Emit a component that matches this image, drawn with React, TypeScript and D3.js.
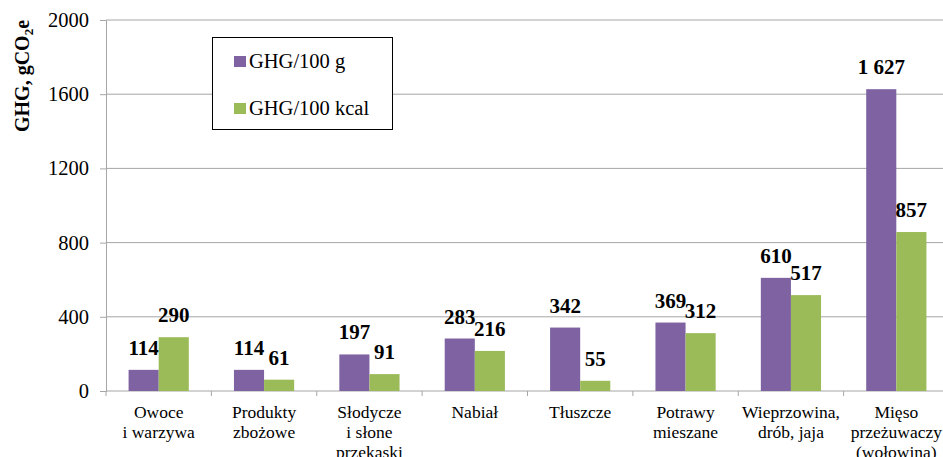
import React from "react";
import * as d3 from "d3";

// chart data
const categories = [
  ["Owoce", "i warzywa"],
  ["Produkty", "zbożowe"],
  ["Słodycze", "i słone", "przekąski"],
  ["Nabiał"],
  ["Tłuszcze"],
  ["Potrawy", "mieszane"],
  ["Wieprzowina,", "drób, jaja"],
  ["Mięso", "przeżuwaczy", "(wołowina)"],
];
const seriesNames = ["GHG/100 g", "GHG/100 kcal"];
const ghgPer100g = [114, 114, 197, 283, 342, 369, 610, 1627];
const ghgPer100kcal = [290, 61, 91, 216, 55, 312, 517, 857];
const yTicks = [0, 400, 800, 1200, 1600, 2000];
const colors = ["#7e62a1", "#9bbb59"];

export default function App() {
  const svgRef = React.useRef(null);
  const width = 943;
  const height = 457;

  React.useEffect(() => {
    const svg = d3.select(svgRef.current);
    svg.selectAll("*").remove();

    const x0 = d3.scaleBand().domain(d3.range(categories.length)).range([106, 949]);
    const x1 = d3.scaleBand().domain([0, 1]).range([0, x0.bandwidth()]).paddingOuter(0.75);
    const y = d3.scaleLinear().domain([0, 2000]).range([391, 20]);

    // gridlines
    svg.append("g")
      .selectAll("line")
      .data(yTicks.slice(1))
      .enter()
      .append("line")
      .attr("x1", 106)
      .attr("x2", width)
      .attr("y1", d => y(d))
      .attr("y2", d => y(d))
      .attr("stroke", "#a6a6a6")
      .attr("stroke-width", 1);

    // y axis
    const yAxis = d3.axisLeft(y).tickValues(yTicks).tickSize(6).tickPadding(11).tickFormat(d3.format("d"));
    const yg = svg.append("g").attr("transform", "translate(106,0)").call(yAxis);
    yg.attr("font-family", null).attr("font-size", null);
    yg.select(".domain").attr("stroke", "#a6a6a6");
    yg.selectAll("line").attr("stroke", "#a6a6a6");
    yg.selectAll("text")
      .style("font-size", "20.5px")
      .attr("fill", "#000");

    // x axis line + ticks
    svg.append("line")
      .attr("x1", 106).attr("x2", width)
      .attr("y1", y(0)).attr("y2", y(0))
      .attr("stroke", "#a6a6a6");
    svg.append("g")
      .selectAll("line")
      .data(d3.range(categories.length + 1))
      .enter()
      .append("line")
      .attr("x1", i => (i < categories.length ? x0(i) : x0(i - 1) + x0.bandwidth()))
      .attr("x2", i => (i < categories.length ? x0(i) : x0(i - 1) + x0.bandwidth()))
      .attr("y1", y(0))
      .attr("y2", y(0) + 5)
      .attr("stroke", "#a6a6a6");

    // bars
    const rows = categories.map((c, i) => [ghgPer100g[i], ghgPer100kcal[i]]);
    const groups = svg.append("g")
      .selectAll("g")
      .data(rows)
      .enter()
      .append("g")
      .attr("transform", (d, i) => `translate(${x0(i)},0)`);

    groups.selectAll("rect")
      .data(d => d)
      .enter()
      .append("rect")
      .attr("x", (d, j) => x1(j))
      .attr("y", d => y(d))
      .attr("width", x1.bandwidth())
      .attr("height", d => y(0) - y(d))
      .attr("fill", (d, j) => colors[j]);

    const fmt = d => (d >= 1000 ? d3.format(",")(d).replace(",", " ") : String(d));
    groups.selectAll("text")
      .data(d => d)
      .enter()
      .append("text")
      .attr("x", (d, j) => x1(j) + x1.bandwidth() / 2)
      .attr("y", d => y(d) - 15)
      .attr("text-anchor", "middle")
      .style("font-weight", "bold")
      .style("font-size", "21px")
      .text(fmt);

    // category labels
    const lab = svg.append("g")
      .selectAll("text")
      .data(categories)
      .enter()
      .append("text")
      .attr("x", (d, i) => x0(i) + x0.bandwidth() / 2)
      .attr("y", 418)
      .attr("text-anchor", "middle")
      .style("font-size", "17.5px")
      .attr("fill", "#000");
    lab.selectAll("tspan")
      .data(d => d)
      .enter()
      .append("tspan")
      .attr("x", function () { return d3.select(this.parentNode).attr("x"); })
      .attr("dy", (d, k) => (k === 0 ? 0 : 20))
      .text(d => d);

    // y axis title
    const title = svg.append("text")
      .attr("transform", "translate(29,76) rotate(-90)")
      .attr("text-anchor", "middle")
      .style("font-weight", "bold")
      .style("font-size", "20px");
    title.append("tspan").text("GHG, gCO");
    title.append("tspan").style("font-size", "13px").attr("dy", 4).text("2");
    title.append("tspan").attr("dy", -4).text("e");

    // legend
    const legend = svg.append("g");
    legend.append("rect")
      .attr("x", 212.5).attr("y", 37.5)
      .attr("width", 180).attr("height", 92)
      .attr("fill", "#fff")
      .attr("stroke", "#000");
    const items = legend.selectAll("g.item")
      .data(seriesNames)
      .enter()
      .append("g")
      .attr("transform", (d, i) => `translate(234,${56 + i * 47})`);
    items.append("rect")
      .attr("width", 12).attr("height", 11)
      .attr("fill", (d, i) => colors[i]);
    items.append("text")
      .attr("x", 15)
      .attr("y", 11.5)
      .style("font-size", "20.5px")
      .text(d => d);
  }, []);

  return (
    <svg
      ref={svgRef}
      width={width}
      height={height}
      style={{
        position: "absolute",
        left: 0,
        top: 0,
        background: "#fff",
        fontFamily: '"Liberation Serif", Tinos, "DejaVu Serif", serif',
      }}
    />
  );
}
